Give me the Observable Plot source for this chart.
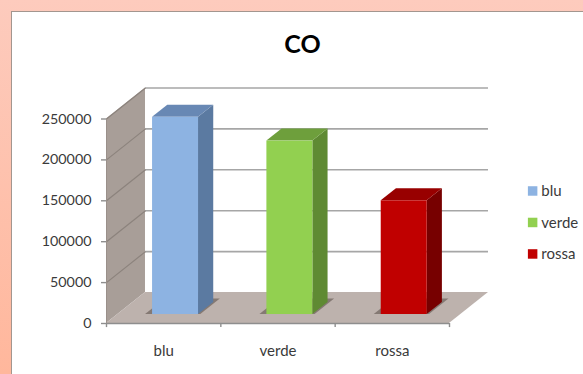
<!DOCTYPE html>
<html>
<head>
<meta charset="utf-8">
<script src="https://cdn.jsdelivr.net/npm/d3@7"></script>
<script src="https://cdn.jsdelivr.net/npm/@observablehq/plot@0.6"></script>
<style>
  html, body { margin: 0; padding: 0; width: 583px; height: 374px; overflow: hidden; }
  body { background: linear-gradient(#fdcbbd, #ffb79c); position: relative; }
  #panel { position: absolute; left: 11px; top: 11px; width: 590px; height: 390px;
           background: #fff; border: 1.5px solid #a3968f; box-sizing: border-box; }
  #chart { position: absolute; left: 0; top: 0; }
  #chart svg { background: transparent; display: block; }
</style>
</head>
<body>
<div id="panel"></div>
<div id="chart"></div>
<script>
const chartTitle = "CO";
const categories = ["blu", "verde", "rossa"];
const values = [241000, 212000, 139000];
const yTicks = [0, 50000, 100000, 150000, 200000, 250000];
const frontColors = ["#8db3e2", "#92d050", "#c00000"];
const sideColors = ["#5b7aa1", "#5f8a33", "#770000"];
const topColors = ["#6888b4", "#6e9f3c", "#980000"];

// Oblique projection: a point at depth d (0 front, 1 back) is shifted in data units.
const depthX = 0.341;
const depthY = 37900;
const yMax = 250000;
const px = (x, d) => x + d * depthX;
const py = (v, d) => v + d * depthY;

// Bars stand on the floor between these depths.
const barNear = 0.29, barFar = 0.68, barWidth = 0.402;

const wallColor = "#a89e98", floorColor = "#bdb2ad", gridColor = "#a6a6a6", axisColor = "#8e8e8e";

const wall = [0, 1].map(d => ({x: px(0, d), y1: py(0, d), y2: py(yMax, d)}));
const floor = [0, 1].map(d => ({y: py(0, d), x1: px(0, d), x2: px(3, d)}));

function barMarks(i) {
  const c0 = i + 0.505 - barWidth / 2, c1 = c0 + barWidth, v = values[i];
  const side = [barNear, barFar].map(d => ({x: px(c1, d), y1: py(0, d), y2: py(v, d)}));
  const top = [barNear, barFar].map(d => ({y: py(v, d), x1: px(c0, d), x2: px(c1, d)}));
  const front = [{x1: px(c0, barNear), x2: px(c1, barNear), y1: py(0, barNear), y2: py(v, barNear)}];
  // Contact shadow cast on the floor, mostly hidden behind the bar.
  const shadow = [barNear, barNear + 0.5].map(d => ({
    y: py(0, d),
    x1: px(c0 - 0.061, d),
    x2: px(c1 + 0.02, d)
  }));
  return [
    Plot.areaX(shadow, {x1: "x1", x2: "x2", y: "y", fill: "#7a6f69", fillOpacity: 0.85}),
    Plot.areaY(side, {x: "x", y1: "y1", y2: "y2", fill: sideColors[i]}),
    Plot.areaX(top, {y: "y", x1: "x1", x2: "x2", fill: topColors[i]}),
    Plot.rect(front, {x1: "x1", x2: "x2", y1: "y1", y2: "y2", fill: frontColors[i], inset: 0})
  ];
}

// Legend rows sit to the right of the plot frame.
const legendX = 3.69, swatchW = 0.083, swatchH = 11600;
const legendRows = categories.map((c, i) => ({name: c, color: frontColors[i], y: 161400 - i * 38500}));

const font = "Lato, 'Open Sans', sans-serif";

const chart = Plot.plot({
  width: 583,
  height: 374,
  marginLeft: 106,
  marginRight: 134,
  marginTop: 118.5,
  marginBottom: 51,
  style: {fontFamily: font, background: "transparent", overflow: "visible"},
  x: {domain: [0, 3], axis: null},
  y: {domain: [0, yMax], axis: null},
  marks: [
    Plot.areaY(wall, {x: "x", y1: "y1", y2: "y2", fill: wallColor}),
    Plot.areaX(floor, {y: "y", x1: "x1", x2: "x2", fill: floorColor}),
    // Gridlines along the back wall, running on across the side wall
    Plot.ruleY(yTicks.slice(1), {
      x1: px(0, 1), x2: px(3, 1), y: d => py(d, 1), stroke: gridColor, strokeWidth: 1.6
    }),
    Plot.link(yTicks.slice(1), {
      x1: px(0, 0), x2: px(0, 1), y1: d => d, y2: d => py(d, 1), stroke: "#8c837d", strokeWidth: 1.2
    }),
    // Axis frame: bottom edge and left edge
    Plot.ruleY([0], {x1: 0, x2: 3, stroke: axisColor, strokeWidth: 1.6}),
    Plot.ruleX([0], {y1: 0, y2: yMax, stroke: "#9a908a", strokeWidth: 1}),
    ...categories.flatMap((c, i) => barMarks(i)),
    Plot.axisY({
      ticks: yTicks, tickSize: 5, tickPadding: 10, anchor: "left", stroke: axisColor,
      fontSize: 14.3, fill: "#3a3a3a", label: null, tickFormat: d => String(d), strokeWidth: 1.4
    }),
    // Short category separators hanging below the bottom edge
    Plot.ruleX([0, 1, 2, 3], {y1: 0, y2: -5000, stroke: axisColor, strokeWidth: 1.4}),
    Plot.axisX({
      ticks: categories.map((c, i) => i + 0.5), tickSize: 0, tickPadding: 21.5, anchor: "bottom",
      fontSize: 15, fill: "#3a3a3a", label: null,
      tickFormat: d => categories[Math.floor(d)]
    }),
    Plot.text([chartTitle], {
      frameAnchor: "top", dx: 24.5, dy: -74.5, lineAnchor: "middle",
      fontSize: 25, fontWeight: 700, fill: "#000"
    }),
    Plot.rect(legendRows, {
      x1: legendX, x2: legendX + swatchW,
      y1: d => d.y - swatchH / 2, y2: d => d.y + swatchH / 2,
      fill: "color", inset: 0
    }),
    Plot.text(legendRows, {
      x: legendX + swatchW + 0.03, y: "y", text: "name", textAnchor: "start",
      fontSize: 15, fill: "#3a3a3a"
    })
  ]
});
document.getElementById("chart").append(chart);
</script>
</body>
</html>
